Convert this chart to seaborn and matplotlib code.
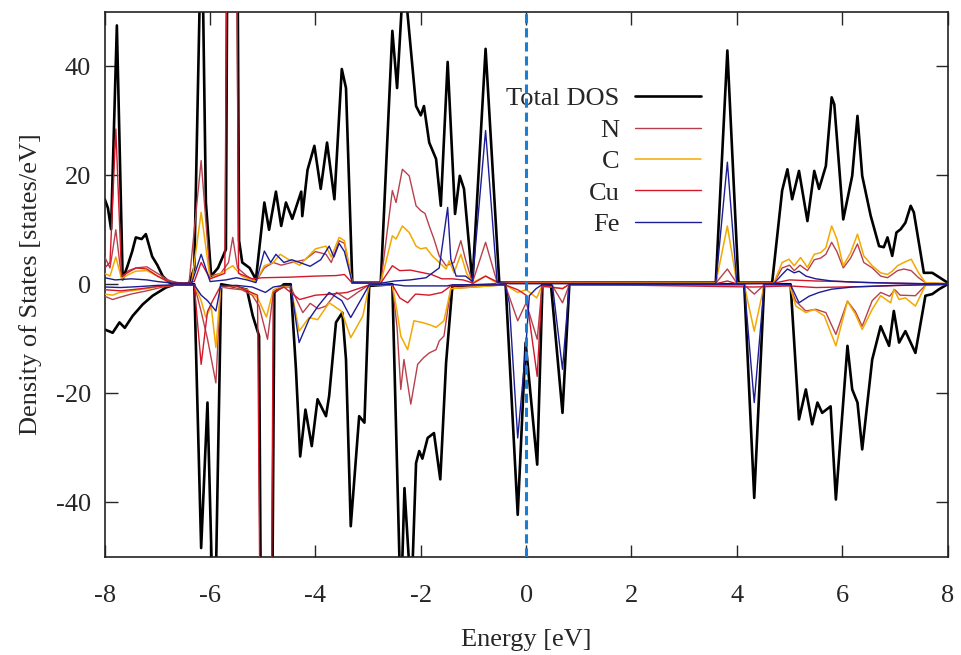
import numpy as np
import pandas as pd
import matplotlib
matplotlib.use("Agg")
import matplotlib.pyplot as plt
import seaborn as sns

# ------------------------------------------
# DOS data (energy [eV], states/eV)
# spin up -> positive, spin down -> negative
# ------------------------------------------

total_up = [(-8.0, 15.6), (-7.94, 14), (-7.88, 10.1), (-7.77, 47.5), (-7.66, 0.9), (-7.57, 3.3),
            (-7.48, 6), (-7.41, 8.6), (-7.3, 8.3), (-7.22, 9.2), (-7.1, 5.1), (-7.0, 3.5),
            (-6.9, 1.5), (-6.77, 0.3), (-6.6, 0.1), (-6.4, 0.1), (-6.3, 3), (-6.16, 70),
            (-6.08, 15), (-5.98, 1.5), (-5.85, 3), (-5.70, 6.4), (-5.585, 250), (-5.45, 8),
            (-5.39, 4), (-5.25, 3), (-5.13, 0.9), (-4.97, 15), (-4.88, 10), (-4.75, 17),
            (-4.65, 10.7), (-4.56, 15), (-4.44, 12), (-4.27, 17), (-4.25, 12.5), (-4.15, 21),
            (-4.02, 25.4), (-3.9, 17.5), (-3.78, 26), (-3.64, 15.6), (-3.5, 39.5), (-3.42, 36),
            (-3.3, 0.3), (-2.76, 0.3), (-2.54, 46.5), (-2.45, 36), (-2.35, 53), (-2.26, 50.5),
            (-2.09, 32.7), (-2.0, 31), (-1.94, 32.7), (-1.84, 26), (-1.71, 23), (-1.62, 14.4),
            (-1.49, 40.8), (-1.35, 12.9), (-1.26, 19.9), (-1.18, 17.5), (-1.02, 0.3), (-0.77, 43.2),
            (-0.51, 0.3), (3.6, 0.3), (3.82, 42.9), (4.03, 0.3), (4.67, 0.3), (4.86, 17.2),
            (4.96, 21.1), (5.05, 15.6), (5.18, 20.8), (5.34, 11.6), (5.47, 20.8), (5.56, 17.5),
            (5.69, 21.7), (5.80, 34.3), (5.85, 33), (6.02, 11.9), (6.19, 19.9), (6.29, 30.9),
            (6.38, 19.9), (6.54, 12.6), (6.70, 7.0), (6.79, 6.8), (6.86, 8.6), (6.95, 5.2),
            (7.03, 9.5), (7.11, 10.1), (7.2, 11.3), (7.30, 14.4), (7.36, 13.2), (7.55, 2.1),
            (7.71, 2.1), (7.84, 1.3), (8.0, 0.3)]

total_dn = [(-8.0, -8.3), (-7.85, -8.9), (-7.72, -7), (-7.62, -8), (-7.47, -5.8), (-7.28, -3.7),
            (-7.09, -2.1), (-6.84, -0.6), (-6.66, 0), (-6.3, 0), (-6.17, -48.4), (-6.05, -21.7),
            (-5.92, -70), (-5.79, 0), (-5.5, -0.5), (-5.3, -1), (-5.19, -5.8), (-5.07, -9.5),
            (-4.93, -220), (-4.78, -1.5), (-4.6, 0), (-4.47, 0), (-4.37, -15.6), (-4.29, -31.6),
            (-4.19, -23), (-4.07, -29.7), (-3.96, -21.1), (-3.8, -24.2), (-3.74, -20.5),
            (-3.61, -7), (-3.49, -5.2), (-3.42, -13.8), (-3.33, -44.4), (-3.17, -24.2),
            (-3.07, -25.4), (-2.98, -0.3), (-2.54, 0), (-2.38, -60), (-2.31, -37.4),
            (-2.18, -58), (-2.09, -32.8), (-2.03, -30.6), (-1.97, -32), (-1.87, -28.2),
            (-1.75, -27.3), (-1.63, -35.8), (-1.52, -14.4), (-1.4, -0.3), (-0.39, 0),
            (-0.16, -42.3), (-0.01, -10.7), (0.21, -33.1), (0.31, 0), (0.47, 0), (0.69, -23.6),
            (0.82, 0), (4.14, 0), (4.33, -39.2), (4.52, 0), (5.02, 0), (5.18, -24.8),
            (5.31, -19.3), (5.43, -25.7), (5.53, -21.7), (5.62, -23.6), (5.78, -22.4),
            (5.88, -39.5), (6.1, -11.3), (6.19, -19.3), (6.29, -21.7), (6.38, -30.3),
            (6.57, -13.8), (6.73, -7.7), (6.89, -11.3), (6.98, -4.9), (7.08, -10.7), (7.2, -8.6),
            (7.39, -12.6), (7.58, -2.1), (7.71, -1.8), (7.84, -0.9), (8.0, 0)]

n_up = [(-8.0, 5), (-7.9, 3), (-7.79, 10), (-7.68, 1), (-7.55, 2.5), (-7.41, 3), (-7.2, 3.2),
        (-7.0, 2), (-6.8, 0.8), (-6.6, 0.2), (-6.4, 0.2), (-6.17, 22.7), (-6.0, 1.5), (-5.8, 2),
        (-5.65, 4), (-5.57, 8.6), (-5.48, 3), (-5.3, 1.5), (-5.13, 0.5), (-4.97, 3), (-4.8, 4),
        (-4.65, 3.5), (-4.45, 4), (-4.2, 4.5), (-4.0, 6), (-3.8, 5.5), (-3.7, 4), (-3.55, 8),
        (-3.45, 7.5), (-3.3, 0.3), (-2.76, 0.3), (-2.54, 17.2), (-2.47, 15), (-2.35, 21.1),
        (-2.22, 19.9), (-2.09, 14.4), (-2.0, 13.5), (-1.92, 13), (-1.84, 10.7), (-1.75, 8.3),
        (-1.65, 5.2), (-1.52, 3.4), (-1.37, 4), (-1.24, 8), (-1.15, 4.5), (-1.02, 0.3),
        (-0.77, 7.7), (-0.55, 0.3), (3.6, 0.2), (3.82, 2.8), (4.0, 0.2), (4.7, 0.2), (4.86, 3),
        (5.0, 3.5), (5.09, 2.5), (5.2, 3.5), (5.34, 2.5), (5.47, 4.5), (5.59, 4.8), (5.69, 5.5),
        (5.80, 7.7), (5.9, 6), (6.02, 3), (6.16, 4.8), (6.29, 7.4), (6.41, 4), (6.57, 3),
        (6.73, 1.5), (6.86, 1.2), (6.95, 1.8), (7.05, 2.5), (7.17, 2.8), (7.31, 2.5),
        (7.45, 1.2), (7.58, 0.3), (8.0, 0.1)]

n_dn = [(-8.0, -2.2), (-7.85, -2.8), (-7.72, -2.4), (-7.5, -1.8), (-7.2, -1.2), (-6.9, -0.5),
        (-6.6, -0.1), (-6.3, -0.1), (-6.17, -5), (-6.05, -10), (-5.89, -18.1), (-5.8, -0.5),
        (-5.6, -0.8), (-5.4, -1), (-5.2, -2), (-5.07, -4), (-4.91, -10.1), (-4.8, -1.5),
        (-4.6, -0.5), (-4.47, -0.5), (-4.35, -3), (-4.24, -5.2), (-4.1, -3.5), (-3.95, -4.5),
        (-3.8, -4), (-3.6, -1.5), (-3.39, -2.8), (-3.2, -1.5), (-3.0, -0.2), (-2.54, -0.1),
        (-2.45, -8), (-2.38, -19.3), (-2.32, -13.8), (-2.19, -22), (-2.06, -14.7),
        (-1.95, -13.5), (-1.84, -12.6), (-1.71, -12), (-1.65, -10.4), (-1.56, -9.5),
        (-1.43, -0.8), (-0.4, -0.1), (-0.16, -6.7), (0.0, -3.4), (0.21, -10.1), (0.3, -0.5),
        (0.5, -0.3), (0.69, -3.4), (0.82, -0.1), (4.14, -0.1), (4.33, -1.8), (4.52, -0.1),
        (5.0, -0.2), (5.12, -3.1), (5.31, -4.9), (5.5, -4.6), (5.69, -5.2), (5.88, -9.2),
        (6.1, -3.1), (6.25, -5), (6.38, -7.7), (6.57, -3), (6.73, -1.5), (6.9, -2.2),
        (7.0, -1), (7.1, -2), (7.39, -2.1), (7.58, -0.2), (8.0, 0)]

c_up = [(-8.0, 2), (-7.9, 1.5), (-7.79, 5), (-7.68, 1), (-7.55, 1.8), (-7.41, 2.4), (-7.2, 2.5),
        (-7.0, 1.5), (-6.8, 0.5), (-6.6, 0.2), (-6.35, 0.3), (-6.17, 13.2), (-6.0, 1),
        (-5.8, 2), (-5.57, 3.4), (-5.4, 1.5), (-5.13, 0.5), (-4.97, 3.4), (-4.8, 4),
        (-4.67, 5.5), (-4.5, 4.5), (-4.3, 3.5), (-4.15, 5), (-4.0, 6.5), (-3.8, 7), (-3.7, 5),
        (-3.55, 8.6), (-3.45, 8), (-3.3, 0.3), (-2.76, 0.3), (-2.54, 8.9), (-2.47, 8.3),
        (-2.35, 10.7), (-2.22, 9.5), (-2.09, 7), (-2.0, 6.5), (-1.9, 6.7), (-1.78, 5.2),
        (-1.65, 4), (-1.52, 2.8), (-1.46, 4.3), (-1.37, 2.1), (-1.24, 5.5), (-1.13, 2),
        (-1.02, 0.3), (-0.77, 1.5), (-0.55, 0.2), (3.6, 0.2), (3.82, 10.7), (4.0, 0.2),
        (4.7, 0.2), (4.86, 4), (4.99, 4.6), (5.09, 3.4), (5.21, 4.9), (5.34, 3.1), (5.47, 5.5),
        (5.59, 5.8), (5.69, 6.7), (5.80, 10.7), (5.9, 8.3), (6.02, 3.4), (6.16, 5.8),
        (6.29, 9.2), (6.41, 5.2), (6.57, 3.4), (6.73, 2.1), (6.86, 1.8), (6.95, 2.4),
        (7.05, 3.4), (7.17, 4), (7.31, 4.6), (7.45, 2.1), (7.58, 0.3), (8.0, 0.1)]

c_dn = [(-8.0, -1.8), (-7.85, -2), (-7.72, -1.5), (-7.5, -1.2), (-7.2, -0.8), (-6.9, -0.3),
        (-6.6, -0.1), (-6.3, -0.1), (-6.17, -3), (-6.08, -6.1), (-5.98, -4), (-5.89, -11.6),
        (-5.8, -0.5), (-5.6, -0.3), (-5.3, -1), (-5.1, -2.5), (-4.93, -6), (-4.8, -1),
        (-4.6, -0.3), (-4.47, -0.3), (-4.31, -8.6), (-4.12, -6.1), (-3.96, -6.5),
        (-3.74, -3.4), (-3.5, -5), (-3.33, -9.8), (-3.1, -5.8), (-2.98, -0.2), (-2.54, -0.1),
        (-2.45, -5), (-2.38, -9.5), (-2.25, -12), (-2.13, -6.7), (-1.98, -7), (-1.84, -7.4),
        (-1.71, -7.9), (-1.56, -6.7), (-1.43, -0.8), (-0.4, -0.1), (-0.16, -1.5), (0.0, -1),
        (0.2, -2.5), (0.3, -0.3), (0.69, -0.8), (0.82, 0), (4.14, -0.1), (4.33, -8.6),
        (4.52, -0.1), (5.0, -0.2), (5.12, -4), (5.31, -5.2), (5.47, -4.6), (5.66, -5.8),
        (5.88, -11.3), (6.1, -3.1), (6.25, -5.5), (6.38, -8.3), (6.57, -4.6), (6.73, -2.1),
        (6.92, -3.4), (6.98, -0.9), (7.08, -2.8), (7.2, -2.5), (7.39, -4), (7.58, -0.2),
        (8.0, 0)]

cu_up = [(-8.0, 3), (-7.9, 4), (-7.79, 28.5), (-7.68, 1.5), (-7.5, 2.5), (-7.4, 3), (-7.2, 2.8),
         (-7.0, 1.5), (-6.8, 0.5), (-6.5, 0.2), (-6.3, 0.5), (-6.17, 4), (-6.0, 1), (-5.72, 2),
         (-5.585, 230), (-5.46, 2), (-5.2, 1), (-5.0, 1.2), (-4.5, 1.3), (-4.0, 1.5),
         (-3.6, 1.6), (-3.45, 1.8), (-3.3, 0.2), (-2.76, 0.2), (-2.54, 3.4), (-2.4, 2.5),
         (-2.2, 2.6), (-2.0, 2.2), (-1.8, 1.8), (-1.6, 1.0), (-1.4, 1.0), (-1.2, 0.8),
         (-1.0, 0.2), (-0.77, 1.5), (-0.5, 0.2), (3.6, 0.1), (3.82, 0.6), (4.0, 0.1),
         (4.7, 0.2), (5.0, 0.8), (5.5, 0.6), (6.0, 0.5), (6.5, 0.3), (7.5, 0.1), (8.0, 0.05)]

cu_dn = [(-8.0, -1), (-7.7, -1.2), (-7.3, -0.8), (-7.0, -0.4), (-6.6, -0.1), (-6.3, -0.2),
         (-6.17, -14.7), (-6.05, -5), (-5.95, -3), (-5.8, -0.3), (-5.5, -0.3), (-5.1, -2),
         (-4.93, -210), (-4.8, -1.5), (-4.6, -0.5), (-4.3, -2.8), (-4.0, -2), (-3.7, -1.8),
         (-3.4, -1.5), (-3.0, -0.2), (-2.54, -0.1), (-2.4, -2.5), (-2.25, -3.4), (-2.1, -1.8),
         (-1.84, -2), (-1.6, -1.5), (-1.43, -0.3), (-0.4, -0.1), (-0.16, -1), (0.0, -2),
         (0.21, -16.9), (0.3, -0.3), (0.69, -0.8), (0.82, 0), (4.33, -0.5), (5.0, -0.3),
         (5.5, -0.6), (6.0, -0.5), (6.5, -0.4), (7.5, -0.1), (8.0, 0)]

fe_up = [(-8.0, 1.2), (-7.8, 0.8), (-7.5, 1.0), (-7.2, 0.8), (-7.0, 0.5), (-6.7, 0.2),
         (-6.35, 0.2), (-6.17, 5.5), (-6.0, 0.5), (-5.7, 0.8), (-5.5, 1.2), (-5.3, 0.8),
         (-5.13, 0.3), (-4.97, 6.1), (-4.85, 4), (-4.75, 5.5), (-4.6, 4), (-4.45, 4.5),
         (-4.3, 4), (-4.1, 3.3), (-3.9, 4.5), (-3.74, 7), (-3.65, 5), (-3.55, 7.5), (-3.45, 6),
         (-3.3, 0.3), (-2.76, 0.2), (-2.5, 0.6), (-2.2, 0.8), (-1.9, 1.2), (-1.65, 3),
         (-1.49, 14.1), (-1.43, 4.6), (-1.33, 1.5), (-1.15, 1.5), (-1.02, 0.5), (-0.77, 28.2),
         (-0.55, 0.3), (-0.3, 0.1), (3.6, 0.1), (3.82, 22.4), (4.0, 0.1), (4.7, 0.1),
         (4.86, 1.8), (4.96, 2.8), (5.09, 2.1), (5.18, 2.4), (5.31, 1.5), (5.5, 1), (5.8, 0.6),
         (6.2, 0.4), (7.0, 0.2), (8.0, 0.05)]

fe_dn = [(-8.0, -0.5), (-7.7, -0.6), (-7.3, -0.4), (-7.0, -0.2), (-6.6, -0.1), (-6.3, -0.1),
         (-6.17, -2), (-6.05, -3), (-5.89, -4.9), (-5.8, -0.3), (-5.5, -0.2), (-5.2, -0.5),
         (-4.95, -1.5), (-4.8, -0.5), (-4.6, -0.2), (-4.47, -0.2), (-4.31, -10.7),
         (-4.12, -6.4), (-3.95, -4), (-3.74, -1.5), (-3.5, -3), (-3.33, -6.1), (-3.1, -2.2),
         (-2.98, -0.1), (-2.54, 0), (-2.3, -0.3), (-1.84, -0.3), (-1.5, -0.3), (-1.4, -0.1),
         (-0.4, -0.1), (-0.32, -3.4), (-0.16, -28.2), (-0.01, -12), (0.06, -2.1), (0.19, -0.8),
         (0.3, -0.1), (0.5, -0.2), (0.69, -15.6), (0.82, 0), (4.14, 0), (4.33, -21.7),
         (4.52, 0), (5.02, -0.1), (5.18, -3.4), (5.37, -2.2), (5.56, -1.5), (5.8, -0.9),
         (6.2, -0.5), (7.0, -0.2), (8.0, 0)]

labels = ["Total DOS", "N", "C", "Cu", "Fe"]
colors = ["#000000", "#b8404c", "#f2a900", "#d4172a", "#1c1c96"]
widths = [1.9, 1.0, 1.1, 1.0, 1.0]
up_sets = [total_up, n_up, c_up, cu_up, fe_up]
dn_sets = [total_dn, n_dn, c_dn, cu_dn, fe_dn]

rows = []
for lab, up, dn in zip(labels, up_sets, dn_sets):
    for e, v in up:
        rows.append((lab, "up", e, v))
    for e, v in dn:
        rows.append((lab, "down", e, v))
df = pd.DataFrame(rows, columns=["species", "spin", "energy", "dos"])

# ------------------------------------------
# Plot
# ------------------------------------------
sns.set_style("ticks")
plt.rcParams["font.family"] = ["Liberation Serif", "DejaVu Serif"]
plt.rcParams["axes.unicode_minus"] = False

fig, ax = plt.subplots(figsize=(9.61, 6.55), dpi=100)
fig.subplots_adjust(left=0.109, right=0.986, bottom=0.150, top=0.982)

for i, (lab, col, lw) in enumerate(zip(labels, colors, widths)):
    for spin in ["up", "down"]:
        sub = df[(df.species == lab) & (df.spin == spin)]
        sns.lineplot(data=sub, x="energy", y="dos", color=col, linewidth=lw,
                     estimator=None, ax=ax, zorder=2 + i,
                     label=lab if spin == "up" else "_nolegend_")

ax.axvline(0, color="#1a7fd4", linestyle=(0, (3, 1.6)), linewidth=2.2, zorder=10)

ax.set_xlim(-8, 8)
ax.set_ylim(-50, 50)
ax.set_xticks([-8, -6, -4, -2, 0, 2, 4, 6, 8])
ax.set_yticks([-40, -20, 0, 20, 40])
ax.tick_params(direction="in", length=9, width=1, top=True, right=True,
               labelsize=19)
ax.tick_params(axis="x", pad=20)
ax.tick_params(axis="y", pad=10)
for s in ax.spines.values():
    s.set_linewidth(1.2)
    s.set_color("#222222")

ax.set_xlabel("Energy [eV]", fontsize=19, labelpad=16)
ax.set_ylabel("Density of States [states/eV]", fontsize=19, labelpad=10)

ax.legend(loc="upper right", bbox_to_anchor=(0.708, 0.862), frameon=False,
          markerfirst=False, fontsize=19, handlelength=2.5, handletextpad=0.6,
          labelspacing=0.3, borderaxespad=0, borderpad=0)

plt.savefig("out.png", dpi=100)
